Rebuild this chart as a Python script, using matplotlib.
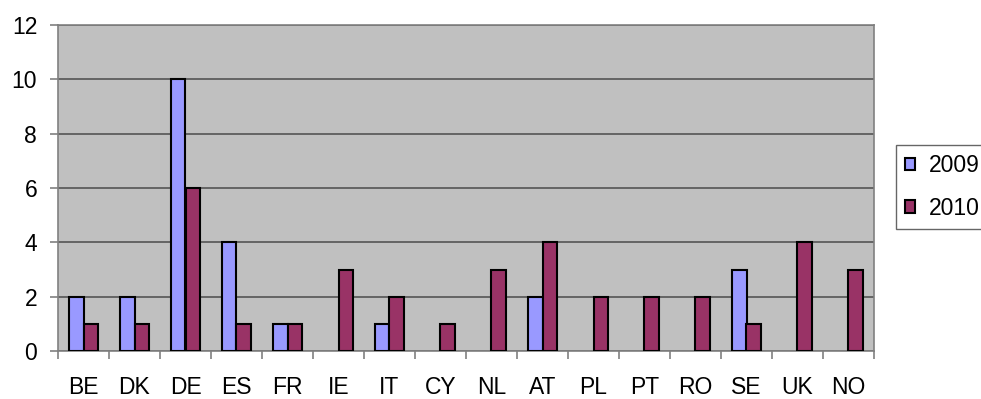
import numpy as np
import matplotlib.pyplot as plt

countries = ["BE", "DK", "DE", "ES", "FR", "IE", "IT", "CY", "NL", "AT",
             "PL", "PT", "RO", "SE", "UK", "NO"]
y2009 = [2, 2, 10, 4, 1, 0, 1, 0, 0, 2, 0, 0, 0, 3, 0, 0]
y2010 = [1, 1, 6, 1, 1, 3, 2, 1, 3, 4, 2, 2, 2, 1, 4, 3]

plt.rcParams['font.family'] = ['Liberation Sans', 'DejaVu Sans']

fig = plt.figure(figsize=(9.81, 3.99), dpi=100)
ax = fig.add_axes([58/981, 48/399, 816/981, 326/399])
ax.set_facecolor('#c0c0c0')

x = np.arange(len(countries))
w = 1 / 3.5

def draw(vals, offset, color, label):
    # Excel leaves zero values out entirely
    xs = [xi for xi, v in zip(x, vals) if v > 0]
    hs = [v for v in vals if v > 0]
    return ax.bar(np.array(xs) + offset, hs, width=w, color=color,
                  edgecolor='black', linewidth=1.5, label=label, zorder=3)

b1 = draw(y2009, -w/2, '#9999ff', '2009')
b2 = draw(y2010, w/2, '#993366', '2010')

ax.set_xlim(-0.5, len(countries) - 0.5)
ax.set_ylim(0, 12)
ax.set_yticks(range(0, 13, 2))
ax.yaxis.grid(True, color='#555555', linewidth=1.2, zorder=1)
ax.set_axisbelow(True)

ax.set_xticks(np.arange(-0.5, len(countries), 1))
ax.set_xticklabels([])
ax.set_xticks(x, minor=True)
ax.set_xticklabels(countries, minor=True)
ax.tick_params(axis='x', which='minor', length=0, pad=18, labelsize=16.5)
ax.tick_params(axis='x', which='major', length=6, color='#808080', width=1.2)
ax.tick_params(axis='y', length=6, color='#808080', width=1.2, labelsize=16.5, pad=9)

for s in ax.spines.values():
    s.set_color('#808080')
    s.set_linewidth(1.2)

leg = fig.legend(handles=[b1, b2], loc='upper left',
                 bbox_to_anchor=(896/981, 1 - 145/399), borderaxespad=0,
                 fontsize=16.5, frameon=True, fancybox=False, edgecolor='#404040',
                 handlelength=0.45, handleheight=0.45, handletextpad=0.6,
                 borderpad=0.4, labelspacing=0.85)
leg.get_frame().set_linewidth(1.0)

fig.savefig('out.png', dpi=100)
